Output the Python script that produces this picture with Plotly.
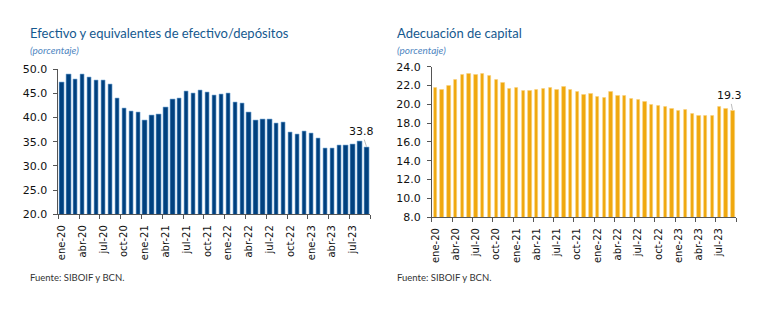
import plotly.graph_objects as go

months = ["ene", "feb", "mar", "abr", "may", "jun", "jul", "ago", "sep", "oct", "nov", "dic"]
categories = [f"{m}-{y}" for y in ["20", "21", "22", "23"] for m in months][:45]

efectivo = [47.4, 48.9, 48.0, 48.9, 48.3, 47.8, 47.8, 46.9, 43.9, 41.9,
            41.3, 41.1, 39.5, 40.5, 40.6, 42.2, 43.7, 43.9, 45.4, 45.0,
            45.7, 45.2, 44.6, 44.8, 45.0, 43.1, 42.9, 41.1, 39.4, 39.7,
            39.6, 38.8, 39.1, 37.0, 36.6, 37.1, 36.8, 35.7, 33.6, 33.6,
            34.2, 34.2, 34.5, 35.0, 33.8]

capital = [21.8, 21.6, 22.0, 22.6, 23.2, 23.3, 23.2, 23.3, 23.0, 22.6,
           22.3, 21.7, 21.8, 21.5, 21.5, 21.6, 21.7, 21.8, 21.6, 21.9,
           21.6, 21.3, 21.0, 21.1, 20.8, 20.7, 21.3, 20.9, 20.9, 20.6,
           20.5, 20.3, 20.0, 19.8, 19.7, 19.5, 19.3, 19.4, 19.0, 18.8,
           18.8, 18.8, 19.7, 19.5, 19.3]

tick_idx = list(range(0, 45, 3))
tick_text = [categories[i] for i in tick_idx]
idx = list(range(len(categories)))

W, H = 770, 322
def px(x): return x / W
def py(y): return 1 - y / H

fig = go.Figure()
fig.add_trace(go.Bar(x=idx, y=efectivo, xaxis="x", yaxis="y", width=0.62,
                     marker=dict(color="#00407e", line=dict(color="#7fb0dc", width=0.6)),
                     hoverinfo="y"))
fig.add_trace(go.Bar(x=idx, y=capital, xaxis="x2", yaxis="y2", width=0.5,
                     marker=dict(color="#f0a80e", line=dict(color="#f8d07a", width=0.5)),
                     hoverinfo="y"))

tickfont = dict(family="DejaVu Sans", size=11, color="#111111")
xtickfont = dict(family="DejaVu Sans", size=10, color="#111111")
minor_vals = [i - 0.5 for i in range(0, 46, 3)]

def xaxis(domain, anchor):
    return dict(domain=domain, anchor=anchor, range=[-0.5, 44.5], tickmode="array",
                tickvals=tick_idx, ticktext=tick_text, tickangle=-90, ticks="",
                ticklabelstandoff=6,
                tickfont=xtickfont, showline=True, linecolor="#555555", linewidth=1,
                showgrid=False, zeroline=False, fixedrange=True,
                minor=dict(tickmode="array", tickvals=minor_vals, ticks="outside",
                           ticklen=4, tickcolor="#555555", showgrid=False))

def yaxis(domain, anchor, rng, dt):
    return dict(domain=domain, anchor=anchor, range=rng, dtick=dt, tick0=rng[0],
                tickformat=".1f", ticks="outside", ticklen=4, tickcolor="#555555",
                ticklabelstandoff=4,
                showline=True, linecolor="#555555", linewidth=1, showgrid=False,
                zeroline=False, tickfont=tickfont, fixedrange=True)

fig.update_layout(
    width=W, height=H, margin=dict(l=0, r=0, t=0, b=0),
    paper_bgcolor="white", plot_bgcolor="white", showlegend=False,
    xaxis=xaxis([px(56.5), px(369.2)], "y"),
    yaxis=yaxis([py(217), py(66)], "x", [20, 50], 5),
    xaxis2=xaxis([px(431), px(736)], "y2"),
    yaxis2=yaxis([py(220), py(63.3)], "x2", [8, 24], 2),
    bargap=0,
)

title_font = dict(family="Lato", size=13, color="#15598f")
sub_font = dict(family="Lato", size=10, color="#4f86bf")
src_font = dict(family="Lato", size=9.5, color="#333333")
ann = [
    dict(text="Efectivo y equivalentes de efectivo/depósitos", x=px(26), y=py(28), font=title_font),
    dict(text="<i>(porcentaje)</i>", x=px(26), y=py(46), font=sub_font),
    dict(text="Fuente: SIBOIF y BCN.", x=px(26), y=py(283), font=src_font),
    dict(text="Adecuación de capital", x=px(394), y=py(28), font=title_font),
    dict(text="<i>(porcentaje)</i>", x=px(394), y=py(46), font=sub_font),
    dict(text="Fuente: SIBOIF y BCN.", x=px(394), y=py(283), font=src_font),
]
for a in ann:
    fig.add_annotation(xref="paper", yref="paper", xanchor="left", yanchor="middle",
                       showarrow=False, **a)

lab_font = dict(family="DejaVu Sans", size=11, color="#111111")
fig.add_annotation(xref="x", yref="y", x=idx[-1], y=efectivo[-1], text=f"{efectivo[-1]:.1f}",
                   showarrow=True, arrowhead=0, arrowwidth=0.8, arrowcolor="#aaaaaa",
                   ax=-5, ay=-16, font=lab_font, standoff=1)
fig.add_annotation(xref="x2", yref="y2", x=idx[-1], y=capital[-1], text=f"{capital[-1]:.1f}",
                   showarrow=True, arrowhead=0, arrowwidth=0.8, arrowcolor="#aaaaaa",
                   ax=-3, ay=-15, font=lab_font, standoff=1)

fig.write_html("out.html")
